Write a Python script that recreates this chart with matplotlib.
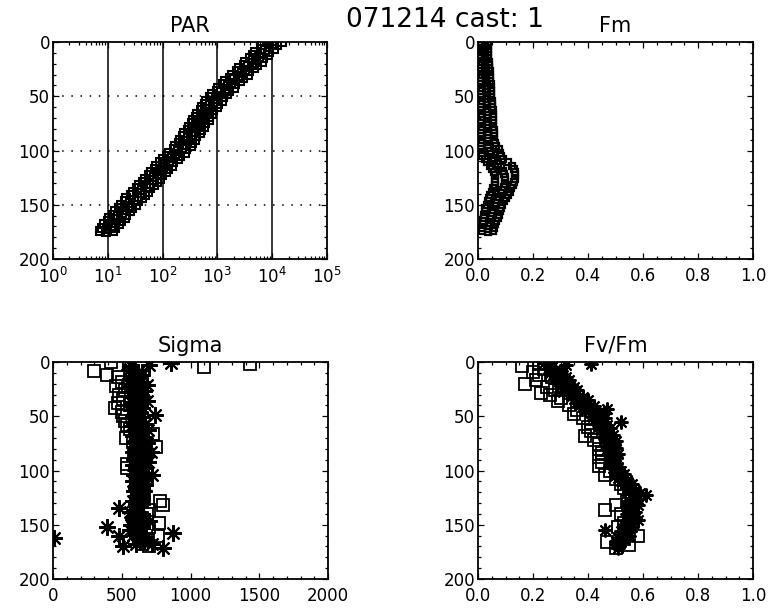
import numpy as np
import matplotlib
matplotlib.use("Agg")
import matplotlib.pyplot as plt
from matplotlib.ticker import MultipleLocator, LogLocator, FixedLocator, LogFormatterSciNotation

# ---------------- data ----------------
main_title = "071214 cast: 1"
titles = ["PAR", "Fm", "Sigma", "Fv/Fm"]

depth_ctd = [0, 3, 6, 9, 12, 15, 18, 21, 24, 27,
             30, 33, 36, 39, 42, 45, 48, 51, 54, 57,
             60, 63, 66, 69, 72, 75, 78, 81, 84, 87,
             90, 93, 96, 99, 102, 105, 108, 111, 114, 117,
             120, 123, 126, 129, 132, 135, 138, 141, 144, 147,
             150, 153, 156, 159, 162, 165, 168, 171, 174]

depth_ctd_up = [1.5, 4.5, 7.5, 10.5, 13.5, 16.5, 19.5, 22.5, 25.5, 28.5,
                31.5, 34.5, 37.5, 40.5, 43.5, 46.5, 49.5, 52.5, 55.5, 58.5,
                61.5, 64.5, 67.5, 70.5, 73.5, 76.5, 79.5, 82.5, 85.5, 88.5,
                91.5, 94.5, 97.5, 100.5, 103.5, 106.5, 109.5, 112.5, 115.5, 118.5,
                121.5, 124.5, 127.5, 130.5, 133.5, 136.5, 139.5, 142.5, 145.5, 148.5,
                151.5, 154.5, 157.5, 160.5, 163.5, 166.5, 169.5, 172.5, 175.0]

par_down_log10 = [3.91, 3.82, 3.80, 3.69, 3.65, 3.60, 3.50, 3.49, 3.39, 3.35,
                  3.26, 3.23, 3.13, 3.10, 3.01, 2.99, 2.90, 2.87, 2.79, 2.77,
                  2.71, 2.70, 2.62, 2.61, 2.55, 2.54, 2.48, 2.46, 2.39, 2.38,
                  2.32, 2.30, 2.23, 2.20, 2.11, 2.08, 2.00, 1.96, 1.88, 1.86,
                  1.79, 1.75, 1.67, 1.65, 1.57, 1.54, 1.46, 1.43, 1.34, 1.32,
                  1.24, 1.21, 1.13, 1.10, 1.02, 1.00, 0.93, 0.90, 0.86]

par_mid_log10 = [3.99, 3.94, 3.87, 3.80, 3.75, 3.70, 3.63, 3.56, 3.50, 3.44,
                 3.37, 3.30, 3.25, 3.20, 3.13, 3.06, 3.02, 2.98, 2.92, 2.86,
                 2.83, 2.80, 2.75, 2.71, 2.68, 2.65, 2.60, 2.57, 2.52, 2.47,
                 2.44, 2.41, 2.35, 2.28, 2.23, 2.18, 2.11, 2.05, 2.01, 1.97,
                 1.90, 1.84, 1.80, 1.75, 1.69, 1.62, 1.58, 1.53, 1.47, 1.40,
                 1.36, 1.31, 1.25, 1.19, 1.15, 1.11, 1.05, 0.99, 0.96]

par_up_log10 = [4.17, 4.08, 4.04, 3.95, 3.92, 3.84, 3.81, 3.72, 3.67, 3.58,
                3.55, 3.46, 3.42, 3.33, 3.30, 3.22, 3.18, 3.10, 3.08, 3.01,
                2.99, 2.92, 2.91, 2.85, 2.84, 2.77, 2.76, 2.70, 2.68, 2.61,
                2.60, 2.54, 2.51, 2.43, 2.40, 2.32, 2.28, 2.19, 2.17, 2.10,
                2.07, 1.98, 1.96, 1.89, 1.85, 1.77, 1.74, 1.67, 1.63, 1.55,
                1.52, 1.45, 1.41, 1.33, 1.31, 1.24, 1.21, 1.13, 1.10]

fm_left = [0.012, 0.010, 0.013, 0.011, 0.012, 0.010, 0.013, 0.011, 0.012, 0.010,
           0.013, 0.011, 0.012, 0.010, 0.013, 0.011, 0.012, 0.010, 0.013, 0.011,
           0.012, 0.010, 0.013, 0.011, 0.012, 0.010, 0.013, 0.011, 0.012, 0.010,
           0.013, 0.011, 0.012, 0.012, 0.013, 0.016, 0.025, 0.034, 0.044, 0.052,
           0.057, 0.061, 0.063, 0.062, 0.060, 0.056, 0.050, 0.045, 0.040, 0.035,
           0.031, 0.027, 0.024, 0.022, 0.020, 0.018, 0.017, 0.016, 0.016]

fm_mid = [0.024, 0.025, 0.023, 0.026, 0.024, 0.025, 0.027, 0.026, 0.028, 0.027,
          0.029, 0.030, 0.029, 0.031, 0.030, 0.032, 0.031, 0.033, 0.032, 0.033,
          0.034, 0.033, 0.035, 0.034, 0.035, 0.034, 0.036, 0.035, 0.036, 0.035,
          0.036, 0.037, 0.038, 0.044, 0.046, 0.050, 0.058, 0.072, 0.085, 0.092,
          0.095, 0.098, 0.098, 0.097, 0.094, 0.088, 0.083, 0.077, 0.070, 0.065,
          0.060, 0.055, 0.052, 0.049, 0.046, 0.042, 0.040, 0.037, 0.035]

fm_right = [0.035, 0.035, 0.036, 0.036, 0.037, 0.038, 0.039, 0.040, 0.041, 0.042,
            0.043, 0.044, 0.045, 0.046, 0.047, 0.047, 0.048, 0.049, 0.050, 0.051,
            0.052, 0.053, 0.054, 0.055, 0.055, 0.056, 0.056, 0.057, 0.057, 0.058,
            0.059, 0.061, 0.065, 0.075, 0.080, 0.085, 0.092, 0.110, 0.125, 0.131,
            0.133, 0.134, 0.133, 0.131, 0.127, 0.120, 0.115, 0.108, 0.100, 0.094,
            0.088, 0.083, 0.079, 0.075, 0.071, 0.066, 0.062, 0.058, 0.055]

sigma_sq_depth = [0, 2, 2, 5, 8, 12, 14, 18, 22, 26,
                  30, 34, 38, 42, 46, 50, 54, 58, 62, 66,
                  70, 74, 78, 82, 86, 90, 94, 98, 102, 106,
                  110, 114, 118, 122, 126, 128, 132, 136, 140, 144,
                  148, 152, 156, 160, 164, 168, 170]
sigma_sq = [420, 550, 1430, 1100, 300, 390, 470, 500, 460, 520,
            480, 510, 470, 450, 500, 510, 520, 540, 560, 730,
            530, 580, 750, 600, 590, 610, 540, 540, 600, 620,
            610, 600, 640, 620, 660, 780, 800, 700, 680, 650,
            770, 700, 640, 760, 690, 650, 700]

sigma_star_depth = [1, 3, 6, 9, 12, 15, 18, 21, 24, 27,
                    30, 33, 36, 39, 42, 45, 49, 51, 54, 57,
                    60, 63, 66, 69, 72, 75, 78, 81, 83, 86,
                    89, 92, 95, 98, 101, 104, 107, 110, 113, 116,
                    119, 122, 125, 128, 131, 135, 138, 141, 144, 147,
                    150, 152, 155, 158, 160, 162, 165, 168, 170, 171]
sigma_star = [860, 700, 560, 620, 650, 600, 640, 680, 620, 660,
              640, 610, 680, 630, 650, 620, 740, 650, 620, 670,
              640, 690, 620, 660, 640, 680, 650, 670, 710, 630,
              660, 690, 650, 670, 640, 720, 660, 640, 670, 650,
              660, 640, 650, 640, 620, 480, 560, 620, 580, 700,
              640, 390, 560, 870, 480, 10, 660, 720, 510, 800]

frrf_depth2 = [4, 7, 10, 13, 16, 19, 22, 25, 28, 31, 34, 37, 40,
               44, 47, 50, 53, 56, 59, 62, 65, 68, 71, 74, 77, 80, 83, 86, 89,
               92, 95, 98, 101, 104, 107, 110, 113, 116, 119, 122, 125, 128, 131,
               134, 137, 140, 143,
               147, 150, 153, 156, 159, 162, 165, 168]
sigma_star2 = [570, 550, 610, 580, 560, 600, 570, 590, 560, 580, 610, 570, 590,
               570, 600, 580, 610, 590, 570, 620, 600, 580, 610, 590, 630, 600, 580, 620, 590,
               610, 580, 600, 620, 590, 610, 580, 630, 600, 590, 620, 610, 580, 600,
               630, 590, 620, 610,
               590, 570, 650, 610, 580, 670, 630, 600]

fv_sq_depth = [2, 4, 6, 9, 12, 14, 17, 20, 23, 26,
               29, 30, 33, 36, 40, 44, 48, 52, 56, 60,
               64, 68, 72, 76, 80, 84, 88, 92, 96, 100,
               104, 108, 112, 116, 120, 124, 128, 132, 136, 140,
               144, 148, 152, 156, 160, 163, 166, 169, 171]
fv_sq = [0.22, 0.16, 0.24, 0.20, 0.22, 0.27, 0.21, 0.17, 0.25, 0.28,
         0.23, 0.26, 0.30, 0.29, 0.33, 0.36, 0.35, 0.38, 0.41, 0.40,
         0.41, 0.39, 0.42, 0.44, 0.44, 0.45, 0.44, 0.45, 0.44, 0.48,
         0.46, 0.50, 0.52, 0.53, 0.55, 0.56, 0.54, 0.50, 0.46, 0.52,
         0.55, 0.53, 0.51, 0.55, 0.58, 0.53, 0.47, 0.55, 0.50]

fv_star_depth = [1, 2, 3, 5, 8, 11, 14, 17, 20, 23,
                 26, 29, 32, 35, 38, 41, 43, 46, 49, 52,
                 55, 58, 61, 64, 67, 70, 73, 76, 79, 82,
                 85, 88, 91, 94, 97, 100, 103, 106, 109, 112,
                 115, 118, 121, 123, 126, 129, 132, 135, 138, 141,
                 144, 146, 149, 152, 155, 157, 160, 163, 166, 169, 171]
fv_star = [0.24, 0.41, 0.32, 0.27, 0.30, 0.28, 0.32, 0.33, 0.30, 0.35,
           0.36, 0.34, 0.38, 0.40, 0.39, 0.42, 0.47, 0.44, 0.45, 0.46,
           0.52, 0.47, 0.48, 0.47, 0.49, 0.48, 0.50, 0.49, 0.50, 0.49,
           0.51, 0.50, 0.49, 0.50, 0.51, 0.52, 0.53, 0.52, 0.54, 0.56,
           0.55, 0.57, 0.59, 0.61, 0.58, 0.57, 0.58, 0.56, 0.57, 0.55,
           0.57, 0.58, 0.55, 0.56, 0.46, 0.54, 0.55, 0.53, 0.52, 0.51, 0.51]

fv_star2 = [0.26, 0.28, 0.26, 0.29, 0.28, 0.31, 0.30, 0.32, 0.31, 0.34, 0.35, 0.36, 0.37,
            0.39, 0.41, 0.42, 0.42, 0.44, 0.44, 0.45, 0.45, 0.46, 0.46, 0.47, 0.47, 0.47, 0.48, 0.47, 0.48,
            0.48, 0.49, 0.49, 0.50, 0.50, 0.51, 0.52, 0.53, 0.54, 0.55, 0.56, 0.56, 0.55, 0.55,
            0.54, 0.55, 0.54, 0.55,
            0.54, 0.53, 0.53, 0.52, 0.52, 0.51, 0.50, 0.50]

par_ticks = [1, 10, 100, 1000, 10000, 100000]
depth_ticks = [0, 50, 100, 150, 200]
frac_ticks = [0.0, 0.2, 0.4, 0.6, 0.8, 1.0]
sigma_ticks = [0, 500, 1000, 1500, 2000]

# ---------------- figure ----------------
plt.rcParams['font.family'] = ['DejaVu Sans']
W, H = 770, 615
fig = plt.figure(figsize=(W / 100, H / 100), dpi=100)

def pos(l, t, r, b):
    return [l / W, 1 - b / H, (r - l) / W, (b - t) / H]

ax_par = fig.add_axes(pos(53, 42, 327, 259))
ax_fm = fig.add_axes(pos(478, 42, 753, 259))
ax_sig = fig.add_axes(pos(53, 362, 328, 579))
ax_fv = fig.add_axes(pos(478, 362, 753, 579))

sq = dict(ls='none', marker='s', mfc='none', mec='black', clip_on=True)
star = dict(ls='none', marker=(8, 2, 0), color='black', clip_on=True)

# PAR
ax_par.set_xscale('log')
ax_par.plot(10 ** np.array(par_down_log10), depth_ctd, ms=5.5, mew=1.5, **sq)
ax_par.plot(10 ** np.array(par_mid_log10), depth_ctd_up, ms=5.5, mew=1.5, **sq)
ax_par.plot(10 ** np.array(par_up_log10), depth_ctd, ms=5.5, mew=1.5, **sq)
ax_par.set_xlim(par_ticks[0], par_ticks[-1])
ax_par.xaxis.set_major_locator(FixedLocator(par_ticks))
ax_par.xaxis.set_major_formatter(LogFormatterSciNotation())
ax_par.xaxis.set_minor_locator(LogLocator(base=10, subs=np.arange(2, 10), numticks=20))
for v in par_ticks[1:-1]:
    ax_par.axvline(v, color='black', lw=1.1, zorder=0.5)
for d in depth_ticks[1:-1]:
    ax_par.axhline(d, color='black', lw=1.1, ls=(0, (1, 5)), zorder=0.5)

# Fm
ax_fm.plot(fm_left, depth_ctd, ms=5.0, mew=1.6, **sq)
ax_fm.plot(fm_mid, depth_ctd_up, ms=5.0, mew=1.6, **sq)
ax_fm.plot(fm_right, depth_ctd, ms=5.0, mew=1.6, **sq)
ax_fm.set_xlim(0, 1)
ax_fm.xaxis.set_major_locator(FixedLocator(frac_ticks))
ax_fm.xaxis.set_minor_locator(MultipleLocator(0.05))
ax_fm.xaxis.set_major_formatter(plt.FuncFormatter(lambda v, p: f"{v:.1f}"))

# Sigma
ax_sig.plot(sigma_sq, sigma_sq_depth, ms=8, mew=1.3, **sq)
ax_sig.plot(sigma_star, sigma_star_depth, ms=12, mew=1.5, **star)
ax_sig.plot(sigma_star2, frrf_depth2, ms=12, mew=1.5, **star)
ax_sig.set_xlim(0, 2000)
ax_sig.xaxis.set_major_locator(FixedLocator(sigma_ticks))
ax_sig.xaxis.set_minor_locator(MultipleLocator(100))

# Fv/Fm
ax_fv.plot(fv_sq, fv_sq_depth, ms=8, mew=1.3, **sq)
ax_fv.plot(fv_star, fv_star_depth, ms=10, mew=1.5, **star)
ax_fv.plot(fv_star2, frrf_depth2, ms=10, mew=1.5, **star)
ax_fv.set_xlim(0, 1)
ax_fv.xaxis.set_major_locator(FixedLocator(frac_ticks))
ax_fv.xaxis.set_minor_locator(MultipleLocator(0.05))
ax_fv.xaxis.set_major_formatter(plt.FuncFormatter(lambda v, p: f"{v:.1f}"))

for ax, t in zip((ax_par, ax_fm, ax_sig, ax_fv), titles):
    ax.set_ylim(200, 0)
    ax.yaxis.set_major_locator(FixedLocator(depth_ticks))
    ax.yaxis.set_minor_locator(MultipleLocator(10))
    ax.tick_params(which='both', direction='in', top=True, right=True,
                   labelsize=12, width=0.9, color='black')
    ax.tick_params(which='major', length=4)
    ax.tick_params(which='minor', length=2)
    ax.tick_params(axis='x', which='major', pad=5.5)
    ax.tick_params(axis='y', which='major', pad=2)
    for s in ax.spines.values():
        s.set_linewidth(1.3)
    ax.set_title(t, fontsize=15, pad=7.5)

fig.text(445 / W, 1 - 27 / H, main_title, fontsize=19, ha='center', va='baseline')

fig.savefig("out.png", dpi=100)
